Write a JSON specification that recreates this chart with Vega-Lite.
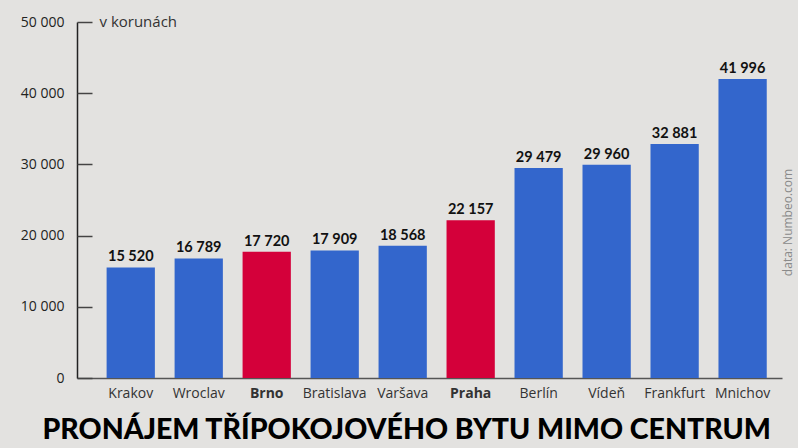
{
  "$schema": "https://vega.github.io/schema/vega-lite/v6.json",
  "width": 705,
  "height": 356,
  "autosize": "none",
  "padding": {"left": 77, "top": 22, "right": 16, "bottom": 70},
  "background": "#e3e2e0",
  "config": {
    "view": {"stroke": null},
    "locale": {"number": {"decimal": ",", "thousands": " ", "grouping": [3], "currency": ["", " Kč"]}},
    "font": "Open Sans"
  },
  "title": {
    "text": "PRONÁJEM TŘÍPOKOJOVÉHO BYTU MIMO CENTRUM",
    "orient": "bottom",
    "anchor": "middle",
    "frame": "bounds",
    "fontSize": 28.5,
    "fontWeight": 900,
    "font": "Lato",
    "color": "#000000",
    "offset": 16
  },
  "data": {
    "values": [
      {"mesto": "Krakov", "cena": 15520, "cz": "ne"},
      {"mesto": "Wroclav", "cena": 16789, "cz": "ne"},
      {"mesto": "Brno", "cena": 17720, "cz": "ano"},
      {"mesto": "Bratislava", "cena": 17909, "cz": "ne"},
      {"mesto": "Varšava", "cena": 18568, "cz": "ne"},
      {"mesto": "Praha", "cena": 22157, "cz": "ano"},
      {"mesto": "Berlín", "cena": 29479, "cz": "ne"},
      {"mesto": "Vídeň", "cena": 29960, "cz": "ne"},
      {"mesto": "Frankfurt", "cena": 32881, "cz": "ne"},
      {"mesto": "Mnichov", "cena": 41996, "cz": "ne"}
    ]
  },
  "encoding": {
    "x": {
      "field": "mesto",
      "type": "nominal",
      "sort": null,
      "scale": {"paddingInner": 0.29, "paddingOuter": 0.33, "align": 0.66},
      "axis": {
        "title": null,
        "labelAngle": 0,
        "labelFontSize": 14,
        "labelColor": "#333333",
        "labelFontWeight": {"condition": {"test": "datum.value === 'Brno' || datum.value === 'Praha'", "value": "bold"}, "value": "normal"},
        "labelPadding": 8,
        "ticks": false,
        "domain": true,
        "domainColor": "#555555",
        "domainWidth": 1.5
      }
    },
    "y": {
      "field": "cena",
      "type": "quantitative",
      "scale": {"domain": [0, 50000], "nice": false}
    }
  },
  "layer": [
    {
      "mark": {"type": "bar"},
      "encoding": {
        "color": {
          "field": "cz",
          "type": "nominal",
          "scale": {"domain": ["ne", "ano"], "range": ["#3366cc", "#d4003a"]},
          "legend": null
        },
        "y": {
          "field": "cena",
          "type": "quantitative",
          "axis": {
            "orient": "left",
            "title": "v korunách",
            "titleAngle": 0,
            "titleAlign": "left",
            "titleBaseline": "middle",
            "titleX": 22,
            "titleY": -1,
            "titleFontSize": 15,
            "titleFontWeight": "normal",
            "titleColor": "#333333",
            "values": [0, 10000, 20000, 30000, 40000, 50000],
            "format": ",d",
            "labelFontSize": 14,
            "labelColor": "#222222",
            "ticks": false,
            "labelPadding": 13,
            "domainColor": "#222222",
            "domainWidth": 1.5,
            "grid": false
          }
        }
      }
    },
    {
      "mark": {"type": "text", "baseline": "alphabetic", "dy": -6, "fontSize": 14.5, "fontWeight": "bold", "font": "Lato", "color": "#111111"},
      "encoding": {
        "text": {"field": "cena", "type": "quantitative", "format": ",d"},
        "y": {
          "field": "cena",
          "type": "quantitative",
          "axis": {
            "orient": "right",
            "offset": -705,
            "title": null,
            "values": [0, 10000, 20000, 30000, 40000, 50000],
            "labels": false,
            "ticks": true,
            "tickSize": 15,
            "tickWidth": 1.5,
            "tickColor": "#444444",
            "domain": false,
            "grid": false
          }
        }
      }
    },
    {
      "mark": {"type": "bar", "opacity": 0},
      "encoding": {
        "y": {
          "field": "cena",
          "type": "quantitative",
          "axis": {
            "orient": "right",
            "offset": 0,
            "title": "data: Numbeo.com",
            "titleAngle": -90,
            "titleFontSize": 12,
            "titleFontWeight": "normal",
            "titleColor": "#8a8a8a",
            "titleY": 200,
            "titlePadding": 12,
            "labels": false,
            "ticks": false,
            "domain": false,
            "grid": false
          }
        }
      }
    }
  ],
  "resolve": {"axis": {"y": "independent"}}
}
